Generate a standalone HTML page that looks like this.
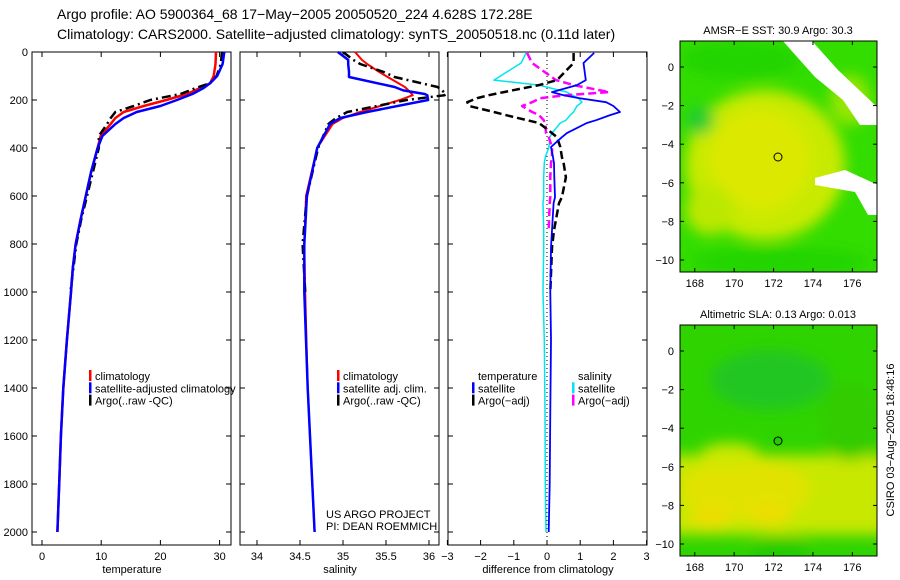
<!DOCTYPE html>
<html><head><meta charset="utf-8"><style>
body{margin:0;background:#fff;}
svg{display:block;font-family:"Liberation Sans",sans-serif;}
</style></head><body>
<svg id="s" width="900" height="580" viewBox="0 0 900 580" xmlns="http://www.w3.org/2000/svg">
<defs>
<filter id="bl" x="-20%" y="-20%" width="140%" height="140%"><feGaussianBlur stdDeviation="7"/></filter>
<clipPath id="c1"><rect x="680" y="41" width="197" height="231"/></clipPath>
<clipPath id="c2"><rect x="680" y="325" width="197" height="231"/></clipPath>
<clipPath id="p1"><rect x="32" y="52" width="199" height="493"/></clipPath>
<clipPath id="p2"><rect x="240" y="52" width="210" height="493"/></clipPath>
<clipPath id="p3"><rect x="448" y="52" width="199" height="493"/></clipPath>
</defs>
<text x="57" y="19" font-size="14">Argo profile: AO 5900364_68 17−May−2005 20050520_224 4.628S 172.28E</text>
<text x="57" y="39" font-size="14">Climatology: CARS2000. Satellite−adjusted climatology: synTS_20050518.nc (0.11d later)</text>

<!-- Map 1 -->
<g>
<g clip-path="url(#c1)">
<rect x="680" y="41" width="197" height="231" fill="#33dd00"/>
<g filter="url(#bl)">
<ellipse cx="765" cy="165" rx="80" ry="75" fill="#c8ea00"/>
<ellipse cx="760" cy="160" rx="50" ry="50" fill="#dde800"/>
<ellipse cx="710" cy="210" rx="25" ry="25" fill="#bbe800"/>
<ellipse cx="850" cy="100" rx="20" ry="25" fill="#99e600"/>
<ellipse cx="740" cy="60" rx="60" ry="18" fill="#22d400"/>
<ellipse cx="780" cy="262" rx="90" ry="14" fill="#22d400"/>
<ellipse cx="700" cy="120" rx="14" ry="14" fill="#22cc33"/>
</g>
<polygon points="783,41 812,41 838,70 878,108 878,125 860,125 843,100 815,77 798,58" fill="#fff"/>
<polygon points="815,178 845,170 878,185 878,215 868,215 855,192 815,185" fill="#fff"/>
<circle cx="778" cy="157" r="4" fill="none" stroke="#000"/>
</g>
<rect x="680" y="41" width="197" height="231" fill="none" stroke="#000"/>
<text x="778" y="34" font-size="11" text-anchor="middle">AMSR−E SST: 30.9 Argo: 30.3</text>
<g id="m1ax"></g>
</g>

<!-- Map 2 -->
<g>
<g clip-path="url(#c2)">
<rect x="680" y="325" width="197" height="231" fill="#2fd400"/>
<g filter="url(#bl)">
<rect x="670" y="455" width="220" height="80" fill="#c8e800"/>
<ellipse cx="745" cy="490" rx="65" ry="30" fill="#e2e200"/>
<ellipse cx="710" cy="518" rx="20" ry="10" fill="#eedd00"/>
<ellipse cx="770" cy="515" rx="20" ry="10" fill="#eedd00"/>
<ellipse cx="730" cy="455" rx="30" ry="12" fill="#cce800"/>
<ellipse cx="780" cy="550" rx="30" ry="14" fill="#22cc00"/>
<ellipse cx="770" cy="380" rx="60" ry="30" fill="#22c622"/>
<ellipse cx="850" cy="420" rx="30" ry="40" fill="#33cc00"/>
</g>
<circle cx="778" cy="441" r="4" fill="#22cc00" stroke="#000"/>
</g>
<rect x="680" y="325" width="197" height="231" fill="none" stroke="#000"/>
<text x="778" y="318" font-size="11" text-anchor="middle">Altimetric SLA: 0.13 Argo: 0.013</text>
<g id="m2ax"></g>
</g>
<text transform="translate(894,440) rotate(-90)" font-size="11" text-anchor="middle">CSIRO 03−Aug−2005 18:48:16</text>

<g id="plots"></g>
</svg>
<script>
const depths=[0,50,100,130,150,175,200,225,250,275,300,350,400,500,600,700,800,900,1000,1200,1400,1600,1800,2000];
const tempClim=[29.4,29.3,29.0,28.4,26.7,24.5,21.0,17.2,13.8,12.4,11.6,9.9,9.4,8.3,7.4,6.5,5.7,5.2,4.9,4.2,3.6,3.2,2.9,2.6];
const tempSat =[30.8,30.5,29.6,28.4,27.3,25.4,22.8,20.0,16.0,13.8,12.4,10.2,9.4,8.3,7.4,6.5,5.7,5.2,4.9,4.2,3.6,3.2,2.9,2.6];
const tempArgo=[30.4,30.2,29.5,28.4,26.0,23.4,18.3,15.5,12.4,11.6,11.0,9.6,9.6,8.6,7.6,6.6,5.8,5.3,4.8];
const salDepths=[0,33,50,83,104,146,160,175,180,200,250,275,300,400,600,800,1000,1400,2000];
const salClim=[35.14,35.22,35.28,35.42,35.52,35.72,35.76,35.80,35.81,35.66,35.2,35.0,34.88,34.7,34.57,34.55,34.56,34.59,34.67];
const salSat =[34.94,35.06,35.06,35.07,35.07,35.6,35.7,35.95,35.98,35.99,35.28,34.97,34.85,34.7,34.58,34.55,34.55,34.59,34.67];
const salArgo=[35.0,35.12,35.2,35.47,35.6,36.1,36.15,36.2,36.18,35.74,35.05,34.92,34.83,34.71,34.58,34.53,34.56];
const diffDepths=[4,46,117,138,167,180,192,209,225,250,263,284,296,338,355,396,438,463,522,605,630,743,814,1000,1200,1500,1800,2000];
const dTempSat =[1.42,1.1,1.17,0.9,0.15,0.5,0.96,1.78,2.0,2.2,1.9,1.48,1.2,0.6,0.45,0.12,0.18,0.21,0.22,0.24,0.2,0.15,0.12,0.1,0.12,0.1,0.08,0.05];
const dTempArgo=[0.8,0.8,0.3,-0.24,-1.3,-1.75,-2.1,-2.4,-2.35,-1.6,-1.24,-0.6,-0.24,0.15,0.3,0.4,0.45,0.5,0.57,0.45,0.36,0.21,0.15,0.1];
const dSalSat  =[-0.63,-0.78,-1.6,-0.24,0.6,0.76,0.95,1.05,0.9,0.8,0.7,0.57,0.4,0.15,0.08,0.06,-0.05,-0.08,-0.1,-0.1,-0.12,-0.1,-0.1,-0.12,-0.08,-0.06,-0.05,-0.03];
const dSalArgo =[-0.6,-0.45,0.27,0.8,1.87,0.6,-0.2,-0.45,-0.75,-0.45,-0.24,-0.1,-0.05,-0.03,0.05,0.15,0.15,0.12,0.1,0.1,0.08,0.05];
const depthTicks=[0,200,400,600,800,1000,1200,1400,1600,1800,2000];
const tempTicks=[0,10,20,30];
const salTicks=[34,34.5,35,35.5,36];
const diffTicks=[-3,-2,-1,0,1,2,3];
const lonTicks=[168,170,172,174,176];
const latTicks=[0,-2,-4,-6,-8,-10];

const NS='http://www.w3.org/2000/svg';
const plots=document.getElementById('plots');
function mk(tag,attrs,parent){const e=document.createElementNS(NS,tag);for(const k in attrs)e.setAttribute(k,attrs[k]);(parent||plots).appendChild(e);return e;}
const yD=d=>52+d*0.24;
const xT=v=>42+v*5.92;
const xS=v=>257+(v-34)*86;
const xDf=v=>547+v*33.2;

const panels=[
 {x:32,clip:'p1',fx:xT,ticks:tempTicks,title:'temperature',name:'temperature-panel',leftLabels:true},
 {x:240,clip:'p2',fx:xS,ticks:salTicks,title:'salinity',name:'salinity-panel'},
 {x:448,clip:'p3',fx:xDf,ticks:diffTicks,title:'difference from climatology',name:'difference-panel'}];
panels.forEach(p=>{
 const g=mk('g',{});
 
 
 p.g=g;
 const r=mk('rect',{x:p.x,y:52,width:199,height:493,fill:'none',stroke:'#000','stroke-width':1},g);
 
 
 depthTicks.forEach(d=>{
  mk('line',{x1:p.x,x2:p.x+5,y1:yD(d),y2:yD(d),stroke:'#000'},g);
  mk('line',{x1:p.x+199,x2:p.x+194,y1:yD(d),y2:yD(d),stroke:'#000'},g);
  if(p.leftLabels){const t=mk('text',{x:28,y:yD(d)+4,'font-size':11,'text-anchor':'end'},g);t.textContent=d;
   
   }
 });
 p.ticks.forEach(v=>{
  const x=p.fx(v);
  mk('line',{x1:x,x2:x,y1:545,y2:540,stroke:'#000'},g);
  mk('line',{x1:x,x2:x,y1:52,y2:57,stroke:'#000'},g);
  const t=mk('text',{x:x,y:560,'font-size':11,'text-anchor':'middle'},g);t.textContent=(v<0?'−'+(-v):v);
  
  
 });
 const at=mk('text',{x:p.x+100,y:573,'font-size':11,'text-anchor':'middle'},g);at.textContent=p.title;
 
 
});
function line(p,xs,ds,fx,color,w,dash,name){
 const pts=xs.map((v,i)=>fx(v).toFixed(1)+','+yD(ds[i]).toFixed(1)).join(' ');
 const a={points:pts,fill:'none',stroke:color,'stroke-width':w,'stroke-linejoin':'round'};
 if(dash)a['stroke-dasharray']=dash;
 if(p.clip)a['clip-path']='url(#'+p.clip+')';
 const e=mk('polyline',a,p.g);
 
 
}
const P1=panels[0],P2=panels[1],P3=panels[2];
line(P1,tempClim,depths,xT,'#ff0000',2.5,null,'temp-climatology-line');
line(P1,tempArgo,depths,xT,'#000',2.5,'9,4,2,4','temp-argo-line');
line(P1,tempSat,depths,xT,'#0000ff',2.5,null,'temp-satellite-line');
line({g:P2.g},salClim,salDepths,xS,'#ff0000',2,null,'sal-climatology-line');
line({g:P2.g,clip:'p2'},salArgo,salDepths,xS,'#000',2.5,'9,4,2,4','sal-argo-line');
line({g:P2.g},salSat,salDepths,xS,'#0000ff',2.5,null,'sal-satellite-line');
mk('line',{x1:547,x2:547,y1:52,y2:545,stroke:'#000','stroke-dasharray':'1,3'},P3.g);
line(P3,dSalSat,diffDepths,xDf,'#00e5ee',1.5,null,'diff-sal-satellite-line');
line(P3,dSalArgo,diffDepths,xDf,'#ff00ff',2.5,'8,4','diff-sal-argo-line');
line(P3,dTempArgo,diffDepths,xDf,'#000',2.5,'8,4','diff-temp-argo-line');
line(P3,dTempSat,diffDepths,xDf,'#0000ff',1.8,null,'diff-temp-satellite-line');

function legend(g,x,y,items,name){
 const lg=mk('g',{},g);
 
 
 items.forEach((it,i)=>{
  if(it[1])mk('rect',{x:x,y:y+i*12.3-10,width:2.5,height:11,fill:it[1]},lg);
  const t=mk('text',{x:x+6,y:y+i*12.3,'font-size':11},lg);t.textContent=it[0];
 });
}
legend(P1.g,89,380,[['climatology','#ff0000'],['satellite-adjusted climatology','#0000ff'],['Argo(..raw -QC)','#000']],'temp-legend');
legend(P2.g,337,380,[['climatology','#ff0000'],['satellite adj. clim.','#0000ff'],['Argo(..raw -QC)','#000']],'sal-legend');
legend(P3.g,472,380,[['temperature',null],['satellite','#0000ff'],['Argo(−adj)','#000']],'diff-temp-legend');
legend(P3.g,572,380,[['salinity',null],['satellite','#00e5ee'],['Argo(−adj)','#ff00ff']],'diff-sal-legend');
const c1=mk('text',{x:326,y:518,'font-size':11},P2.g);c1.textContent='US ARGO PROJECT';


const c2=mk('text',{x:326,y:530,'font-size':11},P2.g);c2.textContent='PI: DEAN ROEMMICH';



function mapAxes(id,top,lat0,bottom){
 const g=document.getElementById(id);
 lonTicks.forEach(v=>{const x=679+(v-167.2)*19.7;
  mk('line',{x1:x,x2:x,y1:bottom,y2:bottom-4,stroke:'#000'},g);
  mk('line',{x1:x,x2:x,y1:top,y2:top+4,stroke:'#000'},g);
  const t=mk('text',{x:x,y:bottom+15,'font-size':11,'text-anchor':'middle'},g);t.textContent=v;
  
  });
 latTicks.forEach(v=>{const y=lat0-v*19.3;
  mk('line',{x1:680,x2:684,y1:y,y2:y,stroke:'#000'},g);
  mk('line',{x1:877,x2:873,y1:y,y2:y,stroke:'#000'},g);
  const t=mk('text',{x:674,y:y+4,'font-size':11,'text-anchor':'end'},g);t.textContent=(v<0?'−'+(-v):v);
  
  });
}
mapAxes('m1ax',41,67,272);
mapAxes('m2ax',325,351,556);
</script>
</body></html>
